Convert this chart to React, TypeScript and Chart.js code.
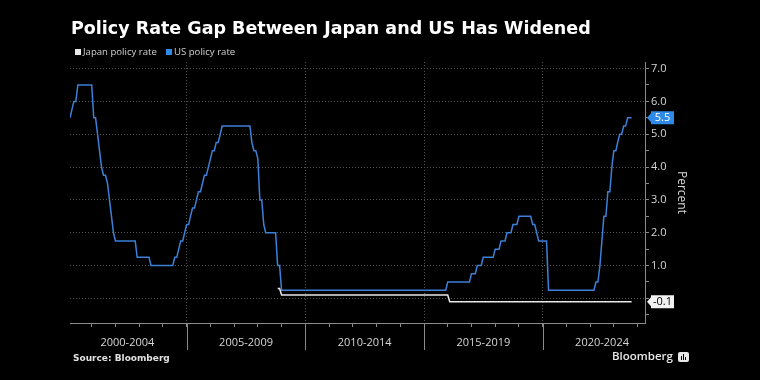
import React, { useEffect, useRef } from "react";
import { Chart, registerables } from "chart.js";

Chart.register(...registerables);

// ---- Data: policy-rate change points (effective date, new rate in %) ----
const usDates = [
  "2000-01-31", "2000-02-02", "2000-03-21", "2000-05-16",
  "2001-01-03", "2001-01-31", "2001-03-20", "2001-04-18", "2001-05-15", "2001-06-27",
  "2001-08-21", "2001-09-17", "2001-10-02", "2001-11-06", "2001-12-11",
  "2002-11-06", "2003-06-25",
  "2004-06-30", "2004-08-10", "2004-09-21", "2004-11-10", "2004-12-14",
  "2005-02-02", "2005-03-22", "2005-05-03", "2005-06-30", "2005-08-09", "2005-09-20",
  "2005-11-01", "2005-12-13",
  "2006-01-31", "2006-03-28", "2006-05-10", "2006-06-29",
  "2007-09-18", "2007-10-31", "2007-12-11",
  "2008-01-22", "2008-01-30", "2008-03-18", "2008-04-30", "2008-10-08", "2008-10-29", "2008-12-16",
  "2015-12-16", "2016-12-14",
  "2017-03-15", "2017-06-14", "2017-12-13",
  "2018-03-21", "2018-06-13", "2018-09-26", "2018-12-19",
  "2019-07-31", "2019-09-18", "2019-10-30",
  "2020-03-03", "2020-03-15",
  "2022-03-16", "2022-05-04", "2022-06-15", "2022-07-27", "2022-09-21", "2022-11-02", "2022-12-14",
  "2023-02-01", "2023-03-22", "2023-05-03", "2023-07-26",
];
const usRates = [
  5.5, 5.75, 6.0, 6.5,
  6.0, 5.5, 5.0, 4.5, 4.0, 3.75,
  3.5, 3.0, 2.5, 2.0, 1.75,
  1.25, 1.0,
  1.25, 1.5, 1.75, 2.0, 2.25,
  2.5, 2.75, 3.0, 3.25, 3.5, 3.75,
  4.0, 4.25,
  4.5, 4.75, 5.0, 5.25,
  4.75, 4.5, 4.25,
  3.5, 3.0, 2.25, 2.0, 1.5, 1.0, 0.25,
  0.5, 0.75,
  1.0, 1.25, 1.5,
  1.75, 2.0, 2.25, 2.5,
  2.25, 2.0, 1.75,
  1.25, 0.25,
  0.5, 1.0, 1.75, 2.5, 3.25, 4.0, 4.5,
  4.75, 5.0, 5.25, 5.5,
];
const jpDates = ["2008-10-31", "2008-12-19", "2016-01-29"];
const jpRates = [0.3, 0.1, -0.1];

// monthly observation windows (first and last month-end shown)
const usRange = ["2000-01", "2023-09"];
const jpRange = ["2008-10", "2023-09"];

const periodStarts = [2000, 2005, 2010, 2015, 2020];
const periodLabels = ["2000-2004", "2005-2009", "2010-2014", "2015-2019", "2020-2024"];
const yearTicks = [2001, 2002, 2003, 2004, 2005, 2006, 2007, 2008, 2009, 2010, 2011, 2012,
  2013, 2014, 2015, 2016, 2017, 2018, 2019, 2020, 2021, 2022, 2023, 2024];
const yTickValues = [-0.5, 0, 0.5, 1, 1.5, 2, 2.5, 3, 3.5, 4, 4.5, 5, 5.5, 6, 6.5, 7];

const X_MIN = 2000.082;
const X_MAX = 2024.31;
const Y_MIN = -0.75;
const Y_MAX = 7.2;

const US_COLOR = "#3d80d8";
const JP_COLOR = "#e8e8e8";
const FONT = "'Open Sans', 'Noto Sans', sans-serif";

function utcToYear(t: number): number {
  const y = new Date(t).getUTCFullYear();
  const start = Date.UTC(y, 0, 1);
  const end = Date.UTC(y + 1, 0, 1);
  return y + (t - start) / (end - start);
}
function parseDate(s: string): number {
  const [y, m, d] = s.split("-").map(Number);
  return Date.UTC(y, m - 1, d);
}

// month-end observations of the rate in force (built from the change points)
function monthEndSeries(dates: string[], rates: number[], range: string[]) {
  const changes = dates.map(parseDate);
  const [sy, sm] = range[0].split("-").map(Number);
  const [ey, em] = range[1].split("-").map(Number);
  const out: { x: number; y: number }[] = [];
  let y = sy;
  let m = sm;
  while (y < ey || (y === ey && m <= em)) {
    const t = Date.UTC(y, m, 0); // last day of month m
    let v = rates[0];
    for (let i = 0; i < changes.length; i++) if (changes[i] <= t) v = rates[i];
    out.push({ x: utcToYear(t), y: v });
    m++;
    if (m > 12) { m = 1; y++; }
  }
  return out;
}

const transparent = "rgba(0,0,0,0)";

const overlayPlugin = {
  id: "overlay",
  afterDraw(chart: any) {
    const { ctx, chartArea } = chart;
    const x = chart.scales.x;
    const y = chart.scales.y;
    ctx.save();
    ctx.strokeStyle = "#8a8a8a";
    ctx.lineWidth = 1;
    periodStarts.slice(1).forEach((p) => {
      const px = Math.round(x.getPixelForValue(p)) + 0.5;
      ctx.beginPath();
      ctx.moveTo(px, chartArea.bottom);
      ctx.lineTo(px, chartArea.bottom + 27);
      ctx.stroke();
    });
    const badge = (value: number, bg: string, fg: string) => {
      const cy = y.getPixelForValue(value);
      const left = chartArea.right + 6;
      const w = 23;
      const h = 13;
      ctx.fillStyle = bg;
      ctx.beginPath();
      ctx.moveTo(left - 4, cy);
      ctx.lineTo(left, cy - 4.5);
      ctx.lineTo(left, cy - h / 2);
      ctx.lineTo(left + w, cy - h / 2);
      ctx.lineTo(left + w, cy + h / 2);
      ctx.lineTo(left, cy + h / 2);
      ctx.lineTo(left, cy + 4.5);
      ctx.closePath();
      ctx.fill();
      ctx.fillStyle = fg;
      ctx.font = `11px ${FONT}`;
      ctx.textAlign = "center";
      ctx.textBaseline = "middle";
      ctx.fillText(value.toFixed(1), left + w / 2, cy + 0.5);
    };
    badge(usRates[usRates.length - 1], "#2f8ae8", "#ffffff");
    badge(jpRates[jpRates.length - 1], "#f2f2f2", "#000000");
    ctx.restore();
  },
};

export default function App() {
  const canvasRef = useRef<HTMLCanvasElement | null>(null);

  useEffect(() => {
    if (!canvasRef.current) return;
    const usData = monthEndSeries(usDates, usRates, usRange);
    const jpData = monthEndSeries(jpDates, jpRates, jpRange);
    const xTicks = [...yearTicks, ...periodStarts.map((p) => p + 2.5)].sort((a, b) => a - b);

    const chart = new Chart(canvasRef.current, {
      type: "line",
      data: {
        datasets: [
          {
            label: "Japan policy rate",
            data: jpData,
            borderColor: JP_COLOR,
            backgroundColor: JP_COLOR,
            borderWidth: 1.5,
            pointRadius: 0,
          },
          {
            label: "US policy rate",
            data: usData,
            borderColor: US_COLOR,
            backgroundColor: US_COLOR,
            borderWidth: 1.5,
            pointRadius: 0,
          },
        ],
      },
      options: {
        responsive: false,
        animation: false,
        maintainAspectRatio: false,
        layout: { padding: { left: 70, right: 71, top: 62, bottom: 0 } },
        plugins: {
          legend: { display: false },
          title: { display: false },
          tooltip: { enabled: false },
        },
        scales: {
          x: {
            type: "linear",
            min: X_MIN,
            max: X_MAX,
            afterBuildTicks: (scale: any) => {
              scale.ticks = xTicks.map((v) => ({ value: v }));
            },
            afterFit: (scale: any) => {
              scale.height = 57;
            },
            grid: {
              color: (c: any) => {
                const v = c.tick?.value;
                return Number.isInteger(v) && v % 5 === 0 ? "#555555" : transparent;
              },
              tickColor: (c: any) => {
                const v = c.tick?.value;
                return Number.isInteger(v) ? "#8a8a8a" : transparent;
              },
              tickLength: 4,
              lineWidth: 1,
            },
            border: { display: true, color: "#8a8a8a", width: 1, dash: [1, 2] },
            ticks: {
              autoSkip: false,
              maxRotation: 0,
              minRotation: 0,
              padding: 9,
              color: "#d6d6d6",
              font: { family: FONT, size: 11 },
              callback: (value: any) => {
                const i = periodStarts.findIndex((p) => p + 2.5 === Number(value));
                return i >= 0 ? periodLabels[i] : "";
              },
            },
          },
          y: {
            type: "linear",
            position: "right",
            min: Y_MIN,
            max: Y_MAX,
            afterBuildTicks: (scale: any) => {
              scale.ticks = yTickValues.map((v) => ({ value: v }));
            },
            afterFit: (scale: any) => {
              scale.width = 44;
            },
            grid: {
              color: (c: any) => {
                const v = c.tick?.value;
                return Number.isInteger(v) && v >= 0 ? "#555555" : transparent;
              },
              tickColor: "#8a8a8a",
              tickLength: 4,
              lineWidth: 1,
            },
            border: { display: true, color: "#8a8a8a", width: 1, dash: [1, 2] },
            ticks: {
              padding: 2,
              color: "#d6d6d6",
              font: { family: FONT, size: 11 },
              callback: (value: any) => {
                const v = Number(value);
                return Number.isInteger(v) && v > 0 ? v.toFixed(1) : "";
              },
            },
            title: {
              display: true,
              text: "Percent",
              color: "#d6d6d6",
              font: { family: FONT, size: 12 },
              padding: 0,
            },
          },
        },
      },
      plugins: [overlayPlugin],
    } as any);

    return () => chart.destroy();
  }, []);

  const legendText: React.CSSProperties = {
    position: "absolute",
    top: 45,
    fontFamily: FONT,
    fontSize: 9.6,
    lineHeight: "14px",
    color: "#d0d0d0",
    whiteSpace: "nowrap",
  };

  return (
    <div
      style={{
        position: "fixed",
        left: 0,
        top: 0,
        width: 760,
        height: 380,
        background: "#000000",
        overflow: "hidden",
      }}
    >
      <canvas
        ref={canvasRef}
        width={760}
        height={380}
        style={{ position: "absolute", left: 0, top: 0, width: 760, height: 380 }}
      />
      <div
        style={{
          position: "absolute",
          left: 71,
          top: 16.5,
          fontFamily: "'DejaVu Sans', sans-serif",
          fontWeight: 700,
          fontSize: 17.5,
          lineHeight: "22px",
          color: "#ffffff",
          whiteSpace: "nowrap",
        }}
      >
        Policy Rate Gap Between Japan and US Has Widened
      </div>
      <div style={{ position: "absolute", left: 75, top: 49, width: 6, height: 6, background: JP_COLOR }} />
      <div style={{ ...legendText, left: 83 }}>Japan policy rate</div>
      <div style={{ position: "absolute", left: 166, top: 49, width: 6, height: 6, background: "#2f8ae8" }} />
      <div style={{ ...legendText, left: 174 }}>US policy rate</div>
      <div
        style={{
          position: "absolute",
          left: 73,
          top: 351,
          fontFamily: "'DejaVu Sans', sans-serif",
          fontWeight: 700,
          fontSize: 9,
          lineHeight: "14px",
          color: "#e0e0e0",
          whiteSpace: "nowrap",
        }}
      >
        Source: Bloomberg
      </div>
      <div
        style={{
          position: "absolute",
          left: 612,
          top: 348,
          fontFamily: FONT,
          fontWeight: 600,
          fontSize: 11.5,
          lineHeight: "16px",
          color: "#e8e8e8",
          whiteSpace: "nowrap",
        }}
      >
        Bloomberg
      </div>
      <div
        style={{
          position: "absolute",
          left: 678,
          top: 352,
          width: 11,
          height: 10,
          borderRadius: 2,
          background: "#e8e8e8",
        }}
      >
        <div style={{ position: "absolute", left: 3, top: 4, width: 1, height: 4, background: "#000" }} />
        <div style={{ position: "absolute", left: 5, top: 2, width: 1, height: 6, background: "#000" }} />
        <div style={{ position: "absolute", left: 7, top: 5, width: 1, height: 3, background: "#000" }} />
      </div>
    </div>
  );
}
